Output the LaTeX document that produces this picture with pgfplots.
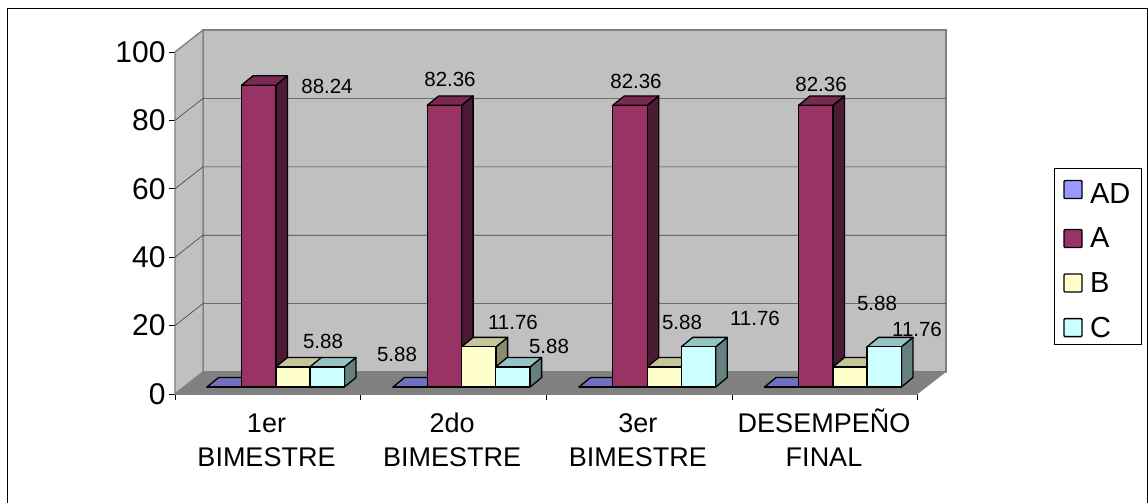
\documentclass[border=0pt]{standalone}
\usepackage{pgfplots}
\pgfplotsset{compat=1.18}
\usepackage{fontspec}
\setmainfont{Liberation Sans}
\definecolor{wall}{HTML}{C0C0C0}
\definecolor{floorc}{HTML}{808080}
\definecolor{adF}{HTML}{9999FF}\definecolor{adT}{HTML}{7070BE}\definecolor{adS}{HTML}{4D4D80}
\definecolor{aF}{HTML}{993366}\definecolor{aT}{HTML}{7A2952}\definecolor{aS}{HTML}{4D1A33}
\definecolor{bF}{HTML}{FFFFCC}\definecolor{bT}{HTML}{C6C69C}\definecolor{bS}{HTML}{8A8A6C}
\definecolor{cF}{HTML}{CCFFFF}\definecolor{cT}{HTML}{96C4C4}\definecolor{cS}{HTML}{668080}
% one 3-D bar: left edge (px), value, three colours
\newcommand{\tdbar}[5]{%
 \pgfmathsetmacro\xa{#1}\pgfmathsetmacro\xb{#1+34.4}%
 \pgfmathsetmacro\xc{#1+34.4+11.5}\pgfmathsetmacro\xd{#1+11.5}%
 \pgfmathsetmacro\yb{2.05}\pgfmathsetmacro\yt{2.05+#2}%
 \pgfmathsetmacro\ybb{2.05+2.75}\pgfmathsetmacro\ytb{2.05+2.75+#2}%
 \addplot[forget plot,draw=black,line width=1.3pt,fill=#4,line join=round] coordinates {(\xb,\yb)(\xc,\ybb)(\xc,\ytb)(\xb,\yt)} --cycle;
 \addplot[forget plot,draw=black,line width=1.3pt,fill=#5,line join=round] coordinates {(\xa,\yt)(\xb,\yt)(\xc,\ytb)(\xd,\ytb)} --cycle;
 \addplot[forget plot,draw=black,line width=1.3pt,fill=#3,line join=round] coordinates {(\xa,\yb)(\xb,\yb)(\xb,\yt)(\xa,\yt)} --cycle;
}
\newcommand{\dlabel}[3]{\node[font=\fontsize{20.5}{24}\selectfont,text=black,inner sep=0pt] at (axis cs:#1,#2) {#3};}
\begin{document}
\begin{tikzpicture}
\path[use as bounding box] (-175pt,-109pt) rectangle (973pt,394pt);
\begin{axis}[
  scale only axis,width=742.6pt,height=342pt,at={(0pt,0pt)},anchor=south west,
  xmin=175,xmax=917.6,ymin=0,ymax=100,clip=false,
  axis x line=bottom,axis y line=left,
  axis line style={-,draw=floorc,line width=0.8pt},
  xtick={175,360.65,546.3,731.95,917.6},xticklabels={},
  extra x ticks={266.5,452.2,637.9,824},
  extra x tick labels={\rule{0pt}{27pt}1er\\BIMESTRE,\rule{0pt}{27pt}2do\\BIMESTRE,\rule{0pt}{27pt}3er\\BIMESTRE,\rule{0pt}{27pt}DESEMPEÑO\\FINAL},
  extra x tick style={major tick length=0pt,tick label style={yshift=-8pt}},
  x tick label style={align=center,font=\fontsize{27}{34}\selectfont,text=black},
  ytick={0,20,40,60,80,100},
  y tick label style={font=\fontsize{30}{34}\selectfont},
  /pgf/number format/assume math mode=true,
  tick style={draw=black,line width=0.6pt},
  major tick length=6pt,
  tick align=outside,
  legend image code/.code={\draw[#1,rounded corners=1pt] (0pt,-9pt) rectangle (18pt,9pt);\path[draw=none,fill=none] (0pt,0pt) -- (24pt,0pt);},
  legend style={at={(879pt,226pt)},anchor=north west,draw=black,line width=0.7pt,
    font=\fontsize{29}{32}\selectfont,inner xsep=9pt,inner ysep=4pt,row sep=19pt,
    cells={anchor=west}},
  legend cell align=left,
]
% walls and floor
\addplot[forget plot,draw=none,fill=floorc] coordinates {(175,0)(203,6.43)(946,6.43)(917.6,0)} --cycle;
\addplot[forget plot,draw=floorc,line width=1.4pt,fill=wall] coordinates {(203,6.43)(946,6.43)(946,106.43)(203,106.43)} --cycle;
\addplot[forget plot,draw=floorc,line width=1.4pt,fill=wall] coordinates {(175,0)(203,6.43)(203,106.43)(175,100)} --cycle;
% gridlines
\pgfplotsinvokeforeach{20,40,60,80}{
 \addplot[forget plot,draw=black!75,line width=0.6pt] coordinates {(175,#1)(203,#1+6.43)(946,#1+6.43)};
}
% bars: left edge in px, value
\tdbar{207}{0}{adF}{adS}{adT}
\tdbar{241.5}{88.24}{aF}{aS}{aT}
\tdbar{276}{5.88}{bF}{bS}{bT}
\tdbar{310}{5.88}{cF}{cS}{cT}
\tdbar{393}{0}{adF}{adS}{adT}
\tdbar{427.2}{82.36}{aF}{aS}{aT}
\tdbar{461.7}{11.76}{bF}{bS}{bT}
\tdbar{495.7}{5.88}{cF}{cS}{cT}
\tdbar{579}{0}{adF}{adS}{adT}
\tdbar{612.8}{82.36}{aF}{aS}{aT}
\tdbar{647.3}{5.88}{bF}{bS}{bT}
\tdbar{681.3}{11.76}{cF}{cS}{cT}
\tdbar{764.5}{0}{adF}{adS}{adT}
\tdbar{798.5}{82.36}{aF}{aS}{aT}
\tdbar{833}{5.88}{bF}{bS}{bT}
\tdbar{867}{11.76}{cF}{cS}{cT}
% data labels (x in px, y in axis units)
\dlabel{327}{90}{88.24}
\dlabel{450}{92}{82.36}
\dlabel{636}{91.5}{82.36}
\dlabel{821}{90.5}{82.36}
\dlabel{323}{15.5}{5.88}
\dlabel{397}{11.5}{5.88}
\dlabel{513}{21}{11.76}
\dlabel{549}{14}{5.88}
\dlabel{682}{21}{5.88}
\dlabel{755}{22.2}{11.76}
\dlabel{877}{26.5}{5.88}
\dlabel{917}{19}{11.76}
% legend
\addlegendimage{fill=adF,draw=black,line width=1.3pt}
\addlegendimage{fill=aF,draw=black,line width=1.3pt}
\addlegendimage{fill=bF,draw=black,line width=1.3pt}
\addlegendimage{fill=cF,draw=black,line width=1.3pt}
\legend{\rule{0pt}{29pt}AD,A\hspace{20pt},B,C}
\end{axis}
\draw[black,line width=0.9pt] (-167.5pt,-109pt) -- (-167.5pt,386pt) -- (972pt,386pt) -- (972pt,-109pt);
\end{tikzpicture}
\end{document}
